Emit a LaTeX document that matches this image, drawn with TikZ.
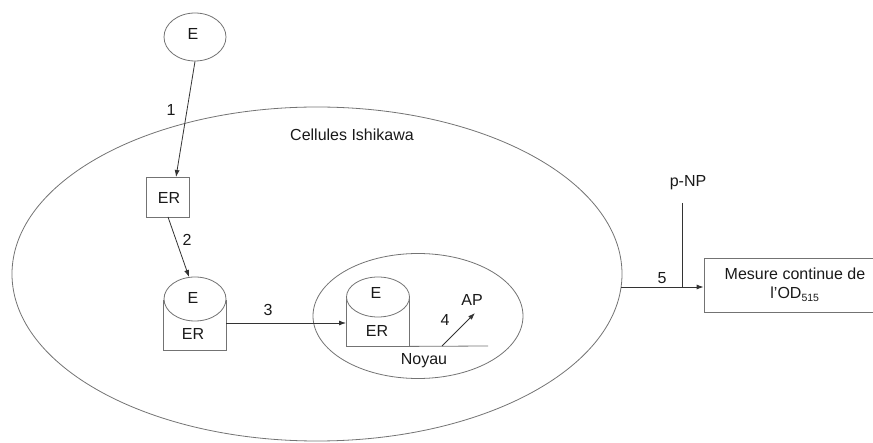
\documentclass[tikz,border=0pt]{standalone}
\usepackage{fontspec}
\setmainfont{Liberation Sans}
\usetikzlibrary{arrows.meta,shapes.geometric}
\begin{document}
\begin{tikzpicture}[x=1pt,y=-1pt,
  every node/.style={font=\fontsize{16}{19}\selectfont, text=black!90},
  shape line/.style={draw=black!55, line width=0.8pt},
  ell/.style={shape line, ellipse, inner sep=0pt},
  box/.style={shape line, rectangle, inner sep=0pt},
  conn/.style={draw=black!80, line width=0.8pt},
  arr/.style={conn, -{Latex[length=7pt,width=5pt]}},
  lbl/.style={inner sep=0pt}
]
\useasboundingbox (0,0) rectangle (873,443);
\clip (0,0) rectangle (873,443);
% big cell
\node[ell, minimum width=610pt, minimum height=334pt] (cell) at (317,274) {};
\node[lbl] (celltxt) at (352,135) {Cellules Ishikawa};
% top E
\node[ell, fill=white, minimum width=62pt, minimum height=48pt] (E1) at (195,37) {};
\node[lbl] (E1t) at (193,34) {E};
% ER1
\node[box, minimum width=43pt, minimum height=40pt] (ER1) at (167.5,197) {};
\node[lbl] (ER1t) at (169,198) {ER};
% E/ER complex
\node[box, minimum width=63pt, minimum height=50pt] (ER2) at (194.5,325) {};
\node[lbl] (ER2t) at (193,334) {ER};
\node[ell, fill=white, minimum width=62pt, minimum height=44pt] (E2) at (195,299) {};
\node[lbl] (E2t) at (193,298) {E};
% nucleus
\node[ell, minimum width=210pt, minimum height=125pt] (noy) at (418,316) {};
\node[box, minimum width=63pt, minimum height=49pt] (ER3) at (377.5,321.5) {};
\node[lbl] (ER3t) at (377,331) {ER};
\node[ell, fill=white, minimum width=63pt, minimum height=40pt] (E3) at (378,297) {};
\node[lbl] (E3t) at (376,293) {E};
\coordinate (floorR) at (488,346);
\draw[shape line] (ER3.south east) -- (floorR);
\node[lbl] (noytxt) at (424,361) {Noyau};
\coordinate (a4s) at (442,346);
\coordinate (a4e) at (475,313);
\node[lbl] (AP) at (472,300) {AP};
% measure box
\node[box, minimum width=182pt, minimum height=54pt] (mes) at (795,285) {};
\node[lbl, align=center] (mest) at (795,285)
  {Mesure continue de\\[0pt]l'OD\textsubscript{\fontsize{10.5}{11}\selectfont 515}};
\coordinate (c5) at (621,287);
\coordinate (pnpTop) at (682,203);
\coordinate (pnpBot) at (682,287);
\node[lbl] (pnp) at (688,183) {p-NP};
% connectors
\coordinate (a1e) at (176,177);
\coordinate (a2s) at (168,217);
\coordinate (a2e) at (189,277);
\coordinate (a3s) at (226,323);
\coordinate (a3e) at (346,323);
\draw[arr] (E1.south) -- (a1e);
\node[lbl] (l1) at (171,110) {1};
\draw[arr] (a2s) -- (a2e);
\node[lbl] (l2) at (187,240) {2};
\draw[arr] (a3s) -- (a3e);
\node[lbl] (l3) at (268,310) {3};
\draw[arr] (a4s) -- (a4e);
\node[lbl] (l4) at (445,320) {4};
\draw[arr] (c5) -- (mes.west |- c5);
\draw[conn] (pnpTop) -- (pnpBot);
\node[lbl] (l5) at (662,278) {5};
\end{tikzpicture}
\end{document}
